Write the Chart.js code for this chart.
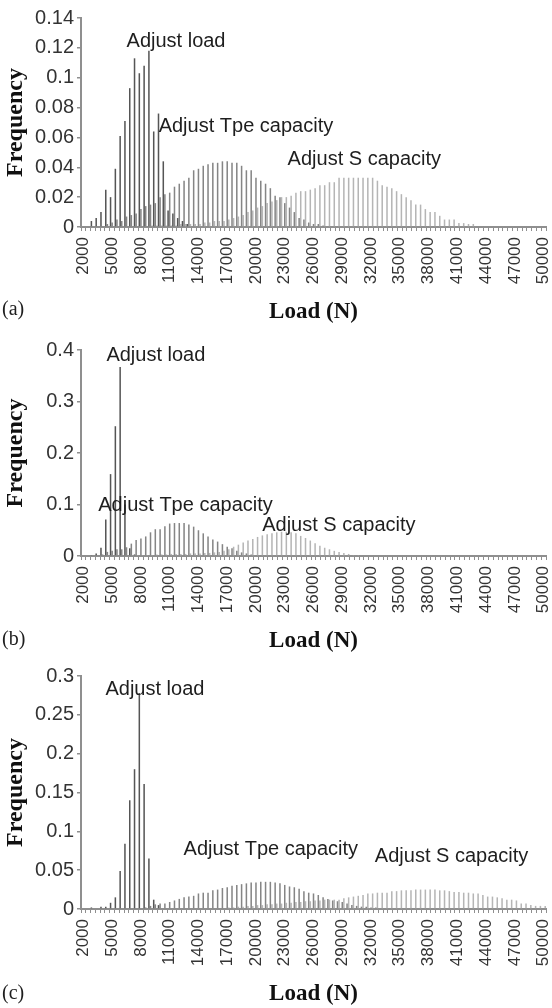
<!DOCTYPE html>
<html>
<head>
<meta charset="utf-8">
<script src="https://cdn.jsdelivr.net/npm/chart.js@4.4.1/dist/chart.umd.min.js"></script>
<style>
  html, body { margin: 0; padding: 0; background: #fff; }
  #wrap { position: relative; width: 552px; height: 1008px; }
  .panel { position: absolute; left: 0; width: 552px; }
</style>
</head>
<body>
<div id="wrap">
  <div class="panel" style="top:0;height:330px"><canvas id="chartA"></canvas></div>
  <div class="panel" style="top:330px;height:330px"><canvas id="chartB"></canvas></div>
  <div class="panel" style="top:660px;height:348px"><canvas id="chartC"></canvas></div>
</div>
<script>
// load bins (N), 500 N wide
const loadBins = [
  2000,2500,3000,3500,4000,4500,5000,5500,6000,6500,
  7000,7500,8000,8500,9000,9500,10000,10500,11000,11500,
  12000,12500,13000,13500,14000,14500,15000,15500,16000,16500,
  17000,17500,18000,18500,19000,19500,20000,20500,21000,21500,
  22000,22500,23000,23500,24000,24500,25000,25500,26000,26500,
  27000,27500,28000,28500,29000,29500,30000,30500,31000,31500,
  32000,32500,33000,33500,34000,34500,35000,35500,36000,36500,
  37000,37500,38000,38500,39000,39500,40000,40500,41000,41500,
  42000,42500,43000,43500,44000,44500,45000,45500,46000,46500,
  47000,47500,48000,48500,49000,49500,50000
];
const xTickLabels = [2000,5000,8000,11000,14000,17000,20000,23000,26000,29000,32000,35000,38000,41000,44000,47000,50000];

// (a)
const loadA = [
  0,0,0.004,0.006,0.010,0.025,0.020,0.039,0.061,0.071,
  0.093,0.113,0.103,0.108,0.118,0.064,0.076,0.044,0.011,0.009,
  0.006,0.004,0.002,0,0,0,0,0,0,0,
  0,0,0,0,0,0,0,0,0,0,
  0,0,0,0,0,0,0,0,0,0,
  0,0,0,0,0,0,0,0,0,0,
  0,0,0,0,0,0,0,0,0,0,
  0,0,0,0,0,0,0,0,0,0,
  0,0,0,0,0,0,0,0,0,0,
  0,0,0,0,0,0,0
];
const tpeA = [
  0,0,0,0,0,0.002,0.003,0.005,0.004,0.007,
  0.008,0.009,0.012,0.014,0.015,0.016,0.020,0.022,0.023,0.027,
  0.029,0.031,0.033,0.038,0.039,0.041,0.042,0.043,0.043,0.044,
  0.044,0.043,0.043,0.041,0.038,0.038,0.033,0.031,0.029,0.026,
  0.021,0.020,0.016,0.013,0.010,0.006,0.005,0.003,0.002,0.002,
  0.001,0,0,0,0,0,0,0,0,0,
  0,0,0,0,0,0,0,0,0,0,
  0,0,0,0,0,0,0,0,0,0,
  0,0,0,0,0,0,0,0,0,0,
  0,0,0,0,0,0,0
];
const sA = [
  0,0,0,0,0,0,0,0,0,0,
  0,0,0,0,0.001,0.001,0.001,0.001,0.001,0.001,
  0.002,0.002,0.002,0.002,0.002,0.003,0.003,0.004,0.004,0.004,
  0.005,0.006,0.007,0.008,0.010,0.011,0.013,0.014,0.016,0.017,
  0.018,0.020,0.020,0.021,0.023,0.024,0.024,0.025,0.026,0.028,
  0.028,0.030,0.030,0.033,0.033,0.033,0.033,0.033,0.033,0.033,
  0.033,0.031,0.028,0.027,0.026,0.024,0.022,0.020,0.018,0.015,
  0.015,0.012,0.010,0.010,0.0075,0.005,0.005,0.005,0.0026,0.0026,
  0.002,0.002,0,0,0,0,0,0,0,0,
  0,0,0,0,0,0,0
];
const yTicksA = [0,0.02,0.04,0.06,0.08,0.1,0.12,0.14];

// (b)
const loadB = [
  0,0,0.002,0.005,0.016,0.071,0.159,0.252,0.367,0.100,
  0.015,0.003,0,0,0,0,0,0,0,0,
  0,0,0,0,0,0,0,0,0,0,
  0,0,0,0,0,0,0,0,0,0,
  0,0,0,0,0,0,0,0,0,0,
  0,0,0,0,0,0,0,0,0,0,
  0,0,0,0,0,0,0,0,0,0,
  0,0,0,0,0,0,0,0,0,0,
  0,0,0,0,0,0,0,0,0,0,
  0,0,0,0,0,0,0
];
const tpeB = [
  0,0,0,0,0.003,0.008,0.010,0.013,0.013,0.017,
  0.024,0.031,0.034,0.038,0.046,0.052,0.052,0.058,0.063,0.064,
  0.064,0.064,0.061,0.057,0.050,0.044,0.038,0.032,0.028,0.023,
  0.018,0.015,0.010,0.007,0.005,0.003,0.002,0.001,0,0,
  0,0,0,0,0,0,0,0,0,0,
  0,0,0,0,0,0,0,0,0,0,
  0,0,0,0,0,0,0,0,0,0,
  0,0,0,0,0,0,0,0,0,0,
  0,0,0,0,0,0,0,0,0,0,
  0,0,0,0,0,0,0
];
const sB = [
  0,0,0,0,0,0,0,0,0,0,
  0.001,0.001,0.002,0.002,0.002,0.003,0.003,0.003,0.004,0.004,
  0.004,0.004,0.005,0.005,0.005,0.006,0.006,0.007,0.008,0.010,
  0.013,0.018,0.022,0.026,0.030,0.033,0.037,0.040,0.042,0.044,
  0.046,0.047,0.047,0.046,0.044,0.039,0.035,0.030,0.025,0.020,
  0.016,0.013,0.010,0.008,0.006,0.004,0.002,0.001,0,0,
  0,0,0,0,0,0,0,0,0,0,
  0,0,0,0,0,0,0,0,0,0,
  0,0,0,0,0,0,0,0,0,0,
  0,0,0,0,0,0,0
];
const yTicksB = [0,0.05,0.1,0.15,0.2,0.25,0.3,0.35,0.4];

// (c)
const loadC = [
  0,0,0.002,0,0.003,0.003,0.008,0.015,0.049,0.084,
  0.140,0.180,0.278,0.161,0.065,0.012,0.005,0,0,0,
  0,0,0,0,0,0,0,0,0,0,
  0,0,0,0,0,0,0,0,0,0,
  0,0,0,0,0,0,0,0,0,0,
  0,0,0,0,0,0,0,0,0,0,
  0,0,0,0,0,0,0,0,0,0,
  0,0,0,0,0,0,0,0,0,0,
  0,0,0,0,0,0,0,0,0,0,
  0,0,0,0,0,0,0
];
const tpeC = [
  0,0,0,0,0,0,0,0,0,0,
  0,0,0,0.002,0.004,0.006,0.007,0.007,0.009,0.011,
  0.013,0.015,0.016,0.017,0.020,0.021,0.021,0.024,0.025,0.027,
  0.028,0.030,0.031,0.032,0.033,0.034,0.034,0.035,0.035,0.035,
  0.034,0.033,0.031,0.029,0.028,0.026,0.023,0.021,0.020,0.018,
  0.015,0.013,0.011,0.010,0.009,0.007,0.005,0.004,0.003,0.003,
  0.002,0.002,0.001,0,0,0,0,0,0,0,
  0,0,0,0,0,0,0,0,0,0,
  0,0,0,0,0,0,0,0,0,0,
  0,0,0,0,0,0,0
];
const sC = [
  0,0,0,0,0,0,0,0,0,0,
  0,0,0,0,0,0,0,0,0,0,
  0.001,0.001,0.001,0.001,0.001,0.001,0.001,0.001,0.001,0.001,
  0.002,0.002,0.003,0.003,0.004,0.004,0.005,0.005,0.006,0.006,
  0.007,0.007,0.008,0.008,0.009,0.009,0.010,0.010,0.011,0.011,
  0.012,0.012,0.012,0.012,0.014,0.015,0.016,0.017,0.018,0.020,
  0.020,0.021,0.021,0.021,0.023,0.023,0.024,0.024,0.024,0.025,
  0.025,0.025,0.025,0.025,0.024,0.024,0.023,0.022,0.022,0.021,
  0.021,0.020,0.020,0.018,0.016,0.016,0.015,0.014,0.012,0.012,
  0.011,0.007,0.007,0.005,0.004,0.004,0.004
];
const yTicksC = [0,0.05,0.1,0.15,0.2,0.25,0.3];

const seriesNames = ['Adjust load', 'Adjust Tpe capacity', 'Adjust S capacity'];
const seriesColors = ['#555555', '#858585', '#b5b5b5'];
const axisGrey = '#8f8f8f';

Chart.defaults.font.family = '"Liberation Sans", Arial, sans-serif';
Chart.defaults.color = '#333';

// free text: series labels and panel letter
const notesPlugin = {
  id: 'notes',
  afterDraw(chart, args, opts) {
    const { ctx, scales: { x, y } } = chart;
    ctx.save();
    ctx.fillStyle = '#1e1e1e';
    ctx.font = '20px "Liberation Sans", Arial, sans-serif';
    ctx.textAlign = 'left';
    ctx.textBaseline = 'middle';
    opts.items.forEach(n => {
      ctx.fillText(n.text, x.getPixelForValue(n.at[0]), y.getPixelForValue(n.at[1]));
    });
    ctx.font = '20px "Liberation Serif", "Times New Roman", serif';
    ctx.fillText(opts.tag, 2, opts.tagY);
    ctx.restore();
  }
};

function makePanel(canvasId, series, yTicks, p) {
  const canvas = document.getElementById(canvasId);
  return new Chart(canvas, {
    type: 'bar',
    data: {
      labels: loadBins,
      datasets: series.map((d, k) => ({
        label: seriesNames[k],
        data: d,
        backgroundColor: seriesColors[k],
        categoryPercentage: 1.0,
        barPercentage: 0.95
      }))
    },
    options: {
      responsive: true,
      maintainAspectRatio: false,
      animation: false,
      layout: { autoPadding: false, padding: { top: p.top, right: 6, left: 0, bottom: 0 } },
      plugins: {
        legend: { display: false },
        tooltip: { enabled: false },
        notes: { items: p.notes, tag: p.tag, tagY: p.tagY }
      },
      scales: {
        x: {
          afterFit: s => { s.height = p.xHeight; s.paddingLeft = 0; s.paddingRight = 0; },
          border: { color: axisGrey, width: 2 },
          grid: { offset: true, drawOnChartArea: false, drawTicks: true, tickLength: 4, color: axisGrey, lineWidth: 1 },
          ticks: {
            autoSkip: false, minRotation: 90, maxRotation: 90, padding: 6,
            font: { size: 17 }, color: '#333',
            callback: (v, i) => xTickLabels.includes(loadBins[i]) ? String(loadBins[i]) : ''
          },
          title: {
            display: true, text: 'Load (N)', color: '#111',
            font: { family: '"Liberation Serif", "Times New Roman", serif', size: 23, weight: 'bold' },
            padding: { top: 0, bottom: p.titlePad }
          }
        },
        y: {
          min: 0,
          max: yTicks[yTicks.length - 1],
          afterBuildTicks: s => { s.ticks = yTicks.map(v => ({ value: v })); },
          afterFit: s => { s.width = 81; s.paddingTop = 0; s.paddingBottom = 0; },
          border: { color: axisGrey, width: 2 },
          grid: { drawOnChartArea: false, drawTicks: true, tickLength: 4, color: axisGrey, lineWidth: 1.5 },
          ticks: { padding: 3, font: { size: 20 }, color: '#333', callback: v => String(v) },
          title: {
            display: true, text: 'Frequency', color: '#111',
            font: { family: '"Liberation Serif", "Times New Roman", serif', size: 24, weight: 'bold' },
            padding: { top: 1, bottom: 0 }
          }
        }
      }
    },
    plugins: [notesPlugin]
  });
}

makePanel('chartA', [loadA, tpeA, sA], yTicksA, {
  top: 18, xHeight: 103, titlePad: 4, tag: '(a)', tagY: 310,
  notes: [
    { text: 'Adjust load', at: [9.0, 0.124] },
    { text: 'Adjust Tpe capacity', at: [15.7, 0.067] },
    { text: 'Adjust S capacity', at: [42.6, 0.045] }
  ]
});

makePanel('chartB', [loadB, tpeB, sB], yTicksB, {
  top: 20, xHeight: 104, titlePad: 5, tag: '(b)', tagY: 310,
  notes: [
    { text: 'Adjust load', at: [4.8, 0.39] },
    { text: 'Adjust Tpe capacity', at: [3.1, 0.099] },
    { text: 'Adjust S capacity', at: [37.3, 0.060] }
  ]
});

makePanel('chartC', [loadC, tpeC, sC], yTicksC, {
  top: 16, xHeight: 99, titlePad: 0, tag: '(c)', tagY: 334,
  notes: [
    { text: 'Adjust load', at: [4.6, 0.282] },
    { text: 'Adjust Tpe capacity', at: [20.9, 0.076] },
    { text: 'Adjust S capacity', at: [60.8, 0.067] }
  ]
});
</script>
</body>
</html>
